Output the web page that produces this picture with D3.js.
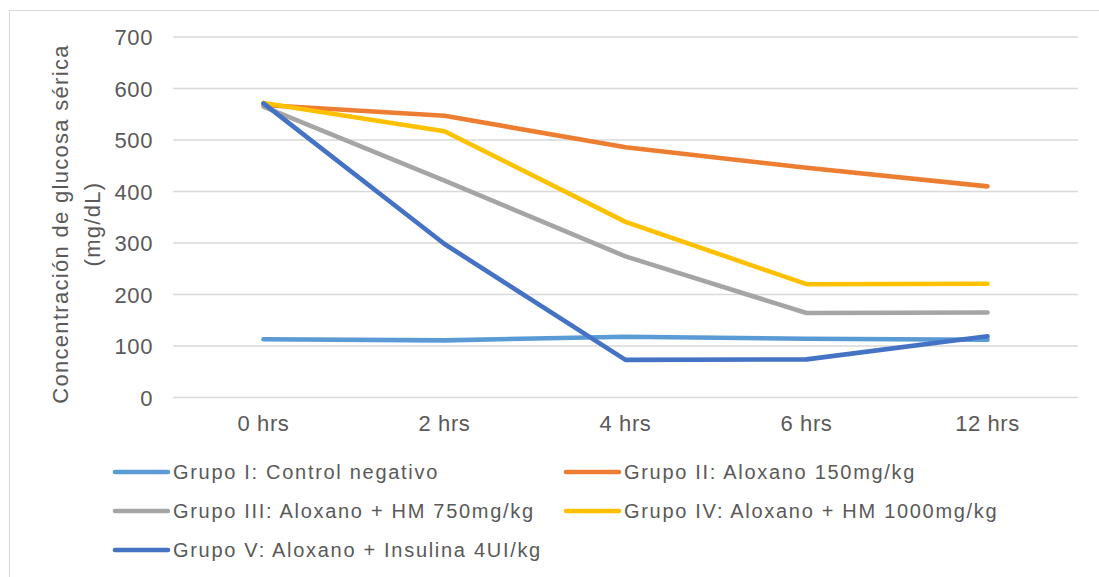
<!DOCTYPE html>
<html><head><meta charset="utf-8">
<script src="https://cdn.jsdelivr.net/npm/d3@7"></script>
<style>body{margin:0;background:#fff}svg{display:block}text{font-family:"Liberation Sans",Arial,sans-serif}</style>
</head><body>
<svg id="c" width="1099" height="577"></svg>
<script>
const categories = ["0 hrs","2 hrs","4 hrs","6 hrs","12 hrs"];
const yTicks = [0,100,200,300,400,500,600,700];
const seriesNames = ["Grupo I: Control negativo","Grupo II: Aloxano 150mg/kg","Grupo III: Aloxano + HM 750mg/kg","Grupo IV: Aloxano + HM 1000mg/kg","Grupo V: Aloxano + Insulina 4UI/kg"];
const seriesColors = ["#5B9BD5","#ED7D31","#A5A5A5","#FFC000","#4472C4"];
const grupoI   = [113,111,118,114,112];
const grupoII  = [568,547,486,446,410];
const grupoIII = [565,421,274,164,165];
const grupoIV  = [572,517,341,220,221];
const grupoV   = [571,298,73,74,119];
const seriesValues = [grupoI,grupoII,grupoIII,grupoIV,grupoV];
const yTitle1 = "Concentración de glucosa sérica";
const yTitle2 = "(mg/dL)";

const svg = d3.select("#c");
svg.append("rect").attr("x",9.5).attr("y",10.5).attr("width",1095).attr("height",600)
  .attr("fill","#fff").attr("stroke","#d9d9d9").attr("stroke-width",1);

const L=173,R=1078,T=37,B=397.5;
const x = d3.scaleBand().domain(categories).range([L,R]).padding(0);
const y = d3.scaleLinear().domain([0,700]).range([B,T]);

const grid = svg.append("g");
grid.selectAll("line").data(yTicks).join("line")
  .attr("x1",L).attr("x2",R).attr("y1",d=>y(d)).attr("y2",d=>y(d))
  .attr("stroke","#d9d9d9").attr("stroke-width",1.3);

const yAx = d3.axisLeft(y).tickValues(yTicks).tickSize(0).tickPadding(0);
const gy = svg.append("g").attr("transform","translate(153,0)").call(yAx);
gy.select(".domain").remove();
gy.selectAll("text").attr("font-size",22).attr("letter-spacing",0.6).attr("fill","#595959").attr("font-family","Liberation Sans, Arial, sans-serif").attr("dy","0.35em");

const xAx = d3.axisBottom(x).tickSize(0).tickPadding(0);
const gx = svg.append("g").attr("transform","translate(0,415)").call(xAx);
gx.select(".domain").remove();
gx.selectAll("text").attr("font-size",22).attr("letter-spacing",0.6).attr("fill","#595959").attr("font-family","Liberation Sans, Arial, sans-serif").attr("dy","0.71em");

const line = d3.line().x((d,i)=>x(categories[i])+x.bandwidth()/2).y(d=>y(d));
svg.append("g").selectAll("path").data(seriesValues).join("path")
  .attr("d",d=>line(d)).attr("fill","none")
  .attr("stroke",(d,i)=>seriesColors[i]).attr("stroke-width",4.6)
  .attr("stroke-linecap","round").attr("stroke-linejoin","round");

const yt = svg.append("text").attr("transform","translate(0,224) rotate(-90)")
  .attr("text-anchor","middle").attr("font-size",22).attr("letter-spacing",1.3).attr("fill","#595959");
yt.append("tspan").attr("x",0).attr("y",68).text(yTitle1);
yt.append("tspan").attr("x",0).attr("y",100).text(yTitle2);

const legPos = [[113,472],[564,472],[113,511],[564,511],[113,550]];
const lg = svg.append("g").selectAll("g").data(seriesNames).join("g")
  .attr("transform",(d,i)=>`translate(${legPos[i][0]},${legPos[i][1]})`);
lg.append("line").attr("x1",2).attr("x2",55).attr("y1",0).attr("y2",0)
  .attr("stroke",(d,i)=>seriesColors[i]).attr("stroke-width",4.6).attr("stroke-linecap","round");
lg.append("text").attr("x",60).attr("y",0).attr("dy","0.35em").attr("font-size",20)
  .attr("letter-spacing",1.7).attr("fill","#595959").text(d=>d);
</script>
</body></html>
